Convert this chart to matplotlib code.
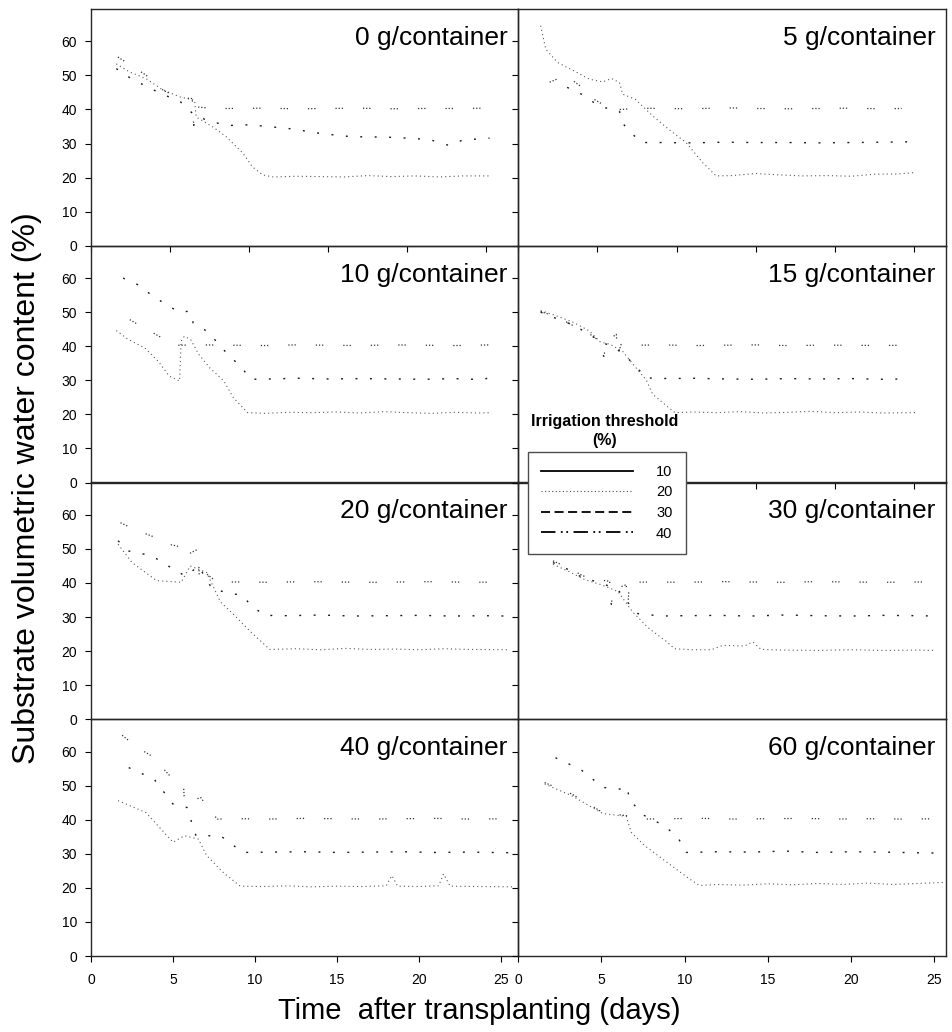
import matplotlib
matplotlib.use("Agg")
import matplotlib.pyplot as plt
from matplotlib.lines import Line2D

plt.rcParams['font.family'] = ['Liberation Sans', 'DejaVu Sans']

# ==========================================
# DATA
# ==========================================
PANEL_LABELS = ["0 g/container", "5 g/container", "10 g/container", "15 g/container",
                "20 g/container", "30 g/container", "40 g/container", "60 g/container"]
THRESHOLDS = ["10", "20", "30", "40"]
Y_TICKS = [0, 10, 20, 30, 40, 50, 60]
X_TICKS = [0, 5, 10, 15, 20, 25]

# 0 g/container
t0_20 = [1.6, 2.45, 3.5, 4.45, 5.6, 6.55, 6.65, 7.7, 8.55, 9.6, 10.2, 10.85, 11.5, 13, 14.5, 16, 17.5, 19, 20.5, 22, 23.5, 25.2]
v0_20 = [53.4, 51, 49, 46, 43.7, 42.7, 37.8, 34.9, 32, 27.2, 23.2, 20.8, 20.2, 20.4, 20.3, 20.2, 20.6, 20.3, 20.5, 20.2, 20.5, 20.5]
t0_30 = [1.6, 2.4, 3.4, 4.5, 5.6, 6.5, 7.5, 8.7, 10, 11.2, 12.7, 14.6, 16.5, 18.6, 20.5, 21.6, 22.6, 23.5, 25.2]
v0_30 = [52, 49.5, 47, 44.5, 42.5, 38.5, 36.5, 35.3, 35.5, 35, 34.3, 32.9, 32, 31.9, 31.5, 30.9, 29.5, 31, 31.6]
t0_40 = [1.7, 2.55, 3.5, 4.6, 5.6, 6.4, 6.5, 6.6, 7.7, 9, 11, 13, 15, 17, 19, 21, 23, 25.2]
v0_40 = [55.4, 52.9, 50, 45.5, 43.5, 43.2, 35, 40.8, 40.3, 40.3, 40.4, 40.2, 40.3, 40.4, 40.2, 40.3, 40.3, 40.4]

# 5 g/container
t5_20 = [1.43, 1.75, 2.5, 3.5, 4.5, 5.35, 5.9, 6.4, 6.6, 7.4, 8.5, 9.5, 10.6, 11.65, 12.5, 13.5, 15, 16.5, 18, 19.5, 21, 22.5, 24, 25.1]
v5_20 = [64.6, 57.7, 53.8, 51.4, 48.9, 48.1, 49.1, 47.9, 44.5, 43, 38.1, 34.2, 30.3, 24.4, 20.5, 20.6, 21.2, 20.8, 20.5, 20.6, 20.4, 21, 21.1, 21.5]
t5_30 = [3.1, 4.0, 4.8, 5.5, 6.4, 6.6, 7.0, 7.8, 9, 11, 13, 15, 17, 19, 21, 23, 24.5, 25.1]
v5_30 = [46.5, 44.5, 42, 40.5, 39.5, 36, 33.7, 30.3, 30.3, 30.2, 30.4, 30.3, 30.3, 30.2, 30.3, 30.4, 30.5, 29.9]
t5_40 = [2.0, 3.0, 3.9, 4.8, 5.6, 6.5, 7.5, 9, 11, 13, 15, 17, 19, 21, 23, 24.2]
v5_40 = [48, 50, 47, 43, 40.8, 40, 40.4, 40.3, 40.2, 40.5, 40.3, 40.2, 40.3, 40.4, 40.2, 40.3]

# 10 g/container
t10_20 = [1.6, 2.35, 3.4, 4.25, 4.95, 5.6, 5.7, 5.9, 6.3, 6.8, 7.5, 8.4, 9.0, 9.9, 11, 12.5, 14, 15.5, 17, 18.5, 20, 21.5, 23, 24.5, 25.3]
v10_20 = [44.6, 42, 39.5, 35.6, 31.2, 29.8, 41.5, 42.9, 42, 37.7, 33.7, 29.8, 24.9, 20.5, 20.3, 20.6, 20.5, 20.7, 20.4, 20.8, 20.5, 20.3, 20.6, 20.4, 20.5]
t10_30 = [2.03, 3.0, 3.8, 4.6, 5.5, 6.1, 6.4, 6.45, 7.4, 8.65, 9.5, 10.1, 11.5, 13, 15, 17, 19, 21, 23, 24.8, 25.3]
v10_30 = [60, 58, 55.1, 52.7, 50.2, 50.2, 49.5, 46.9, 44.2, 37.6, 33.9, 30.3, 30.4, 30.6, 30.4, 30.5, 30.4, 30.3, 30.5, 30.2, 31]
t10_40 = [2.45, 3.0, 4.2, 4.85, 5.5, 7, 9, 11, 13, 15, 17, 19, 21, 23, 25.3]
v10_40 = [47.8, 46.3, 43.2, 41.5, 40.3, 40.4, 40.3, 40.2, 40.4, 40.3, 40.2, 40.4, 40.3, 40.2, 40.4]

# 15 g/container
t15_20 = [1.43, 2.5, 3.5, 4.5, 5.2, 5.8, 6.6, 7.3, 8.1, 8.5, 9.5, 9.9, 11, 12.5, 14, 15.5, 17, 18.5, 20, 21.5, 23, 25.1]
v15_20 = [50.5, 48.8, 47, 44.5, 41.2, 40.6, 38.5, 34.5, 30, 25.9, 22, 20.5, 20.7, 20.5, 20.8, 20.4, 20.6, 20.9, 20.5, 20.7, 20.4, 20.5]
t15_30 = [1.43, 2.5, 3.5, 4.5, 5.3, 6.0, 6.8, 7.5, 8.1, 9.5, 11, 13, 15, 17, 19, 21, 23, 24.3]
v15_30 = [50, 48, 46.2, 43.5, 41, 40, 37.1, 33.7, 30.7, 30.5, 30.6, 30.4, 30.3, 30.5, 30.4, 30.5, 30.3, 30.4]
t15_40 = [1.43, 2.5, 3.5, 4.4, 5.0, 5.3, 5.4, 5.6, 6.2, 6.3, 6.5, 7.5, 9, 11, 13, 15, 17, 19, 21, 23, 24.1]
v15_40 = [50.2, 48.5, 46, 44, 42, 41.5, 36.7, 41.5, 43.5, 37.5, 40.5, 40.3, 40.4, 40.2, 40.3, 40.4, 40.2, 40.3, 40.3, 40.2, 40.3]

# 20 g/container
t20_20 = [1.65, 2.5, 4.0, 5.5, 6.05, 7.05, 7.9, 8.75, 9.75, 10.9, 12.5, 14, 15.5, 17, 18.5, 20, 21.5, 23, 25.5]
v20_20 = [51.4, 46, 40.7, 40.2, 45, 43.1, 34.4, 30.5, 25.6, 20.5, 20.7, 20.4, 20.8, 20.5, 20.6, 20.4, 20.7, 20.5, 20.4]
t20_30 = [1.65, 2.3, 3.7, 5.35, 5.8, 6.55, 7.4, 8.5, 9.25, 9.75, 10.6, 12, 14, 16, 18, 20, 22, 24, 25.3]
v20_30 = [52.4, 49.4, 48, 43.1, 42, 45, 38.2, 37, 36.3, 33.4, 30.5, 30.4, 30.6, 30.3, 30.4, 30.5, 30.3, 30.4, 30.3]
t20_40 = [1.8, 2.83, 3.7, 4.7, 5.7, 5.75, 6.55, 6.6, 6.7, 7.7, 9, 11, 13, 15, 17, 19, 21, 23, 25.3]
v20_40 = [57.7, 55.3, 53.8, 51.4, 50.4, 48, 50, 41.5, 44, 40.2, 40.3, 40.2, 40.4, 40.3, 40.2, 40.3, 40.4, 40.2, 40.3]

# 30 g/container
t30_20 = [2.1, 3.0, 4.0, 5.0, 6.0, 6.9, 7.9, 8.95, 9.4, 10.5, 11.6, 12.3, 13.6, 14.1, 14.6, 16, 18, 20, 22, 24, 25.1]
v30_20 = [45.5, 43.5, 41, 39.5, 37.5, 31.4, 26.5, 22.7, 20.7, 20.4, 20.4, 21.7, 21.5, 22.7, 20.5, 20.3, 20.2, 20.4, 20.2, 20.3, 20.2]
t30_30 = [2.1, 3.0, 3.9, 5.0, 6.0, 6.9, 7.2, 8.6, 10, 12, 14, 16, 18, 20, 22, 24, 25.1]
v30_30 = [46, 44, 41.5, 40, 38, 32.4, 31, 30.3, 30.4, 30.5, 30.3, 30.6, 30.4, 30.3, 30.5, 30.4, 30.3]
t30_40 = [2.1, 3.0, 3.9, 4.8, 5.5, 5.6, 5.7, 6.5, 6.6, 6.7, 8, 10, 12, 14, 16, 18, 20, 22, 24, 25.1]
v30_40 = [46.5, 44.5, 42.1, 41, 40.5, 33.4, 38, 39.5, 34, 40.2, 40.3, 40.2, 40.4, 40.3, 40.2, 40.4, 40.3, 40.2, 40.3, 40.3]

# 40 g/container
t40_20 = [1.65, 3.35, 5.0, 5.7, 6.55, 7.05, 8.05, 9.1, 10.5, 12, 13.5, 15, 16.5, 18.0, 18.35, 18.7, 20, 21.2, 21.5, 21.9, 23.5, 25.8]
v40_20 = [45.6, 42.1, 33.4, 35.3, 34.3, 29.5, 24.6, 20.5, 20.4, 20.6, 20.3, 20.5, 20.4, 20.6, 23.6, 20.5, 20.4, 20.6, 24.1, 20.5, 20.4, 20.3]
t40_30 = [2.3, 3.85, 5.0, 5.85, 6.4, 7.9, 8.7, 9.3, 11, 13, 15, 17, 19, 21, 23, 25.8]
v40_30 = [55.3, 51.9, 44.6, 43.6, 35.3, 35.3, 32.4, 30.4, 30.5, 30.6, 30.4, 30.5, 30.6, 30.4, 30.5, 30.3]
t40_40 = [1.9, 2.83, 3.7, 5.0, 5.65, 5.7, 6.7, 7.2, 7.7, 9, 11, 13, 15, 17, 19, 21, 23, 25.8]
v40_40 = [64.8, 61.2, 58.7, 51.9, 49.5, 45, 46.5, 43.1, 40.2, 40.3, 40.2, 40.4, 40.3, 40.2, 40.3, 40.4, 40.2, 40.3]

# 60 g/container
t60_20 = [1.6, 3.25, 5.1, 6.5, 6.8, 7.6, 8.95, 10.3, 10.9, 12, 13.5, 15, 16.5, 18, 19.5, 21, 22.5, 24, 25.6]
v60_20 = [50.5, 47, 41.8, 41, 36.3, 32.4, 27.5, 22.6, 20.7, 21, 20.8, 21.2, 20.9, 21.3, 21, 21.4, 21, 21.3, 21.6]
t60_30 = [2.25, 3.75, 5.1, 6.1, 6.6, 6.65, 7.6, 8.8, 9.6, 10.1, 12, 14, 16, 18, 20, 22, 24, 25.6]
v60_30 = [58.2, 54.8, 49.5, 49, 49.5, 46, 41.2, 38.2, 34.8, 30.4, 30.6, 30.5, 30.8, 30.4, 30.6, 30.5, 30.3, 30.2]
t60_40 = [1.6, 3.25, 5.1, 6.5, 7.6, 9, 11, 13, 15, 17, 19, 21, 23, 25.6]
v60_40 = [50.9, 47.5, 42.1, 41.2, 40.2, 40.3, 40.4, 40.2, 40.3, 40.4, 40.2, 40.3, 40.2, 40.3]

SERIES = [
    [(t0_20, v0_20), (t0_30, v0_30), (t0_40, v0_40)],
    [(t5_20, v5_20), (t5_30, v5_30), (t5_40, v5_40)],
    [(t10_20, v10_20), (t10_30, v10_30), (t10_40, v10_40)],
    [(t15_20, v15_20), (t15_30, v15_30), (t15_40, v15_40)],
    [(t20_20, v20_20), (t20_30, v20_30), (t20_40, v20_40)],
    [(t30_20, v30_20), (t30_30, v30_30), (t30_40, v30_40)],
    [(t40_20, v40_20), (t40_30, v40_30), (t40_40, v40_40)],
    [(t60_20, v60_20), (t60_30, v60_30), (t60_40, v60_40)],
]

# ==========================================
# STYLES
# ==========================================
# thin broken lines, as they come out in the printed figure
DATA_STYLES = [
    dict(ls=(0, (1, 2.8)), lw=0.8, color='0.35'),            # 20 %
    dict(ls=(0, (1.4, 9)), lw=1.0, color='0.1'),             # 30 %
    dict(ls=(0, (1, 1.5, 1, 1.5, 1, 16)), lw=0.9, color='0.2'),  # 40 %
]
LEGEND_STYLES = [
    dict(ls='-', lw=1.3, color='black'),
    dict(ls=(0, (1, 2.2)), lw=0.8, color='0.3'),
    dict(ls=(0, (5, 2.5)), lw=1.3, color='black'),
    dict(ls=(0, (8, 3, 1, 2, 1, 3)), lw=1.3, color='black'),
]

W, H = 953, 1032
fig = plt.figure(figsize=(W / 100, H / 100), dpi=100)

COL_X = [91, 518]
COL_W = [427, 428]
TOP, ROW_H = 9, 236.75
XLIMS = [[27.0, 27.0], [27.0, 27.0], [26.04, 25.7], [26.04, 25.7]]

for i, label in enumerate(PANEL_LABELS):
    row, col = divmod(i, 2)
    top = TOP + row * ROW_H
    ax = fig.add_axes([COL_X[col] / W, 1 - (top + ROW_H) / H, COL_W[col] / W, ROW_H / H])
    ax.set_facecolor('none')

    for (tt, vv), st in zip(SERIES[i], DATA_STYLES):
        ax.plot(tt, vv, **st)

    ax.set_xlim(0, XLIMS[row][col])
    ax.set_ylim(0, 69.5)
    ax.set_yticks(Y_TICKS)
    ax.tick_params(axis='y', direction='out', length=4, width=0.8, pad=6, labelsize=10)
    if col == 1:
        ax.set_yticklabels([])

    show_x = (row == 0) or (row == 1 and col == 1) or (row == 3)
    if show_x:
        ax.set_xticks(X_TICKS)
        ax.tick_params(axis='x', direction='out', length=4, width=0.8, pad=8, labelsize=10)
        if row != 3:
            ax.set_xticklabels([])
    else:
        ax.set_xticks([])

    for sp in ax.spines.values():
        sp.set_linewidth(1.0)
        sp.set_color('0.15')

    ax.text(0.975, 0.848, label, transform=ax.transAxes, ha='right', va='baseline', fontsize=19)

# legend with its title sitting above the box
handles = [Line2D([], [], **st) for st in LEGEND_STYLES]
fig.legend(handles, THRESHOLDS, loc='upper left',
           bbox_to_anchor=(527.7 / W, 1 - 451.7 / H), bbox_transform=fig.transFigure,
           frameon=True, fancybox=False, edgecolor='0.3', framealpha=1,
           fontsize=10.5, handlelength=6.3, handletextpad=1.6, labelspacing=0.45,
           borderpad=0.9, borderaxespad=0)
fig.text(605 / W, 1 - 431 / H, "Irrigation threshold\n(%)", ha='center', va='center',
         fontsize=11.5, fontweight='bold', linespacing=1.3)

fig.text(27 / W, 1 - 488 / H, "Substrate volumetric water content (%)", rotation=90,
         ha='center', va='center', fontsize=23)
fig.text(479.5 / W, 1 - 1011 / H, "Time  after transplanting (days)", ha='center', va='center',
         fontsize=21)

fig.savefig("out.png", dpi=100)
